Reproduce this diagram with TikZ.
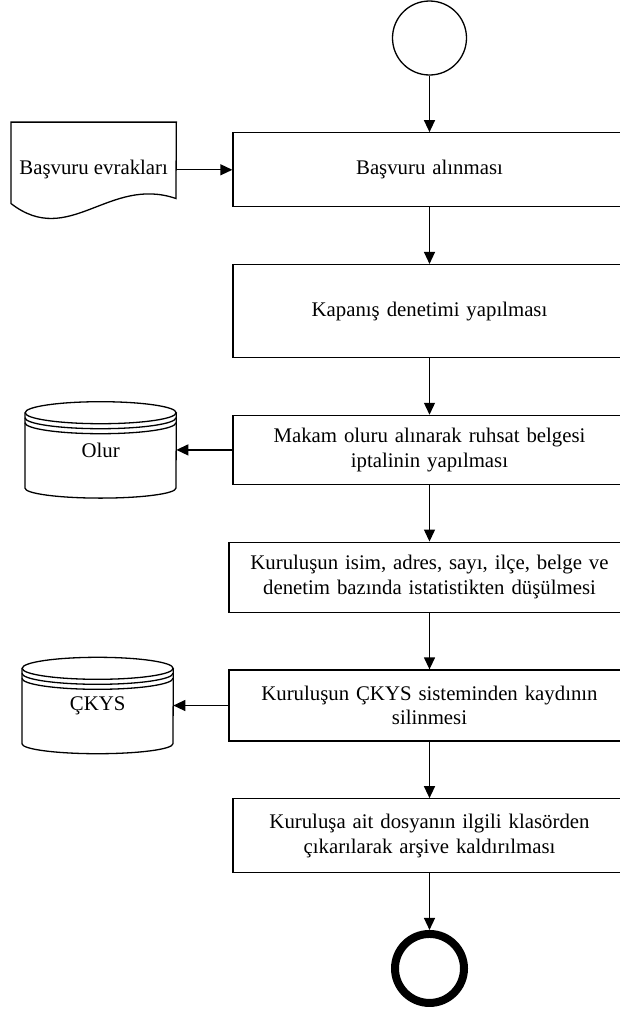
\documentclass[tikz,border=0pt]{standalone}
\usepackage{fontspec}
\setmainfont{Liberation Serif}
\usetikzlibrary{arrows.meta, positioning, calc}

\newcommand{\dbshape}[1]{%
    \draw [line width=1.3pt] ($(#1.north)+(0,-11)$) ellipse [x radius=75.5, y radius=11];
    \draw [line width=1.3pt] ($(#1.north west)+(0,-16)$) arc [start angle=180, end angle=360, x radius=75.5, y radius=11];
    \draw [line width=1.3pt] ($(#1.north west)+(0,-21)$) arc [start angle=180, end angle=360, x radius=75.5, y radius=11];
    \draw [line width=1.3pt] ($(#1.north west)+(0,-11)$) -- ($(#1.south west)+(0,10)$) arc [start angle=180, end angle=360, x radius=75.5, y radius=10] -- ($(#1.north east)+(0,-11)$);
}

\begin{document}
\begin{tikzpicture}[
    x=1pt, y=1pt,
    node distance=56.5pt, >={Triangle[length=12pt,width=11pt]},
    font=\fontsize{20.8}{24.5}\selectfont,
    terminal/.style = {circle, draw, line width=1.3pt, minimum size=74pt, inner sep=0pt},
    finish/.style = {circle, draw, line width=8pt, minimum size=69pt, inner sep=0pt},
    process/.style = {rectangle, draw, line width=1.3pt, minimum width=393pt, text width=390pt, align=center, inner sep=0pt},
    docnode/.style = {minimum width=165pt, minimum height=95pt, inner sep=0pt},
    storage/.style = {minimum width=151pt, minimum height=96pt, inner sep=0pt},
    arrow/.style = {draw, ->, line width=1.3pt}
]
    \useasboundingbox (0,0) rectangle (620,-1012);
    \clip (0,0) rectangle (620,-1012);

    \node [terminal] (start) at (429.5,-38) {};
    \node [process, minimum height=74pt, below=of start] (basvuru) {Başvuru alınması};
    \node [process, minimum height=93pt, below=of basvuru] (kapanis) {Kapanış denetimi yapılması};
    \node [process, minimum height=69pt, below=of kapanis] (iptal) {Makam oluru alınarak ruhsat belgesi\\iptalinin yapılması};
    \node [process, minimum width=401pt, minimum height=70pt, below=of iptal] (istatistik) {Kuruluşun isim, adres, sayı, ilçe, belge ve\\denetim bazında istatistikten düşülmesi};
    \node [process, minimum width=401pt, minimum height=71pt, below=of istatistik] (silme) {Kuruluşun ÇKYS sisteminden kaydının\\silinmesi};
    \node [process, minimum height=74pt, below=of silme] (arsiv) {Kuruluşa ait dosyanın ilgili klasörden\\çıkarılarak arşive kaldırılması};
    \node [finish, below=of arsiv] (end) {};

    \node [docnode, left=56pt of basvuru] (evrak) {Başvuru evrakları};
    \node [storage, left=56pt of iptal] (olur) {Olur};
    \node [storage, left=55pt of silme] (ckys) {ÇKYS};

    \draw [line width=1.3pt] (evrak.north west) -- ($(evrak.south west)+(0,14)$) .. controls ($(evrak.south west)+(58,-31)$) and ($(evrak.south west)+(98,42)$) .. ($(evrak.south west)+(165,19)$) -- (evrak.north east) -- cycle;
    \dbshape{olur}
    \dbshape{ckys}

    \draw [arrow] (start) -- (basvuru);
    \draw [arrow] (evrak) -- (basvuru);
    \draw [arrow] (basvuru) -- (kapanis);
    \draw [arrow] (kapanis) -- (iptal);
    \draw [arrow] (iptal) -- (olur);
    \draw [arrow] (iptal) -- (istatistik);
    \draw [arrow] (istatistik) -- (silme);
    \draw [arrow] (silme) -- (ckys);
    \draw [arrow] (silme) -- (arsiv);
    \draw [arrow] (arsiv) -- (end);
\end{tikzpicture}
\end{document}
